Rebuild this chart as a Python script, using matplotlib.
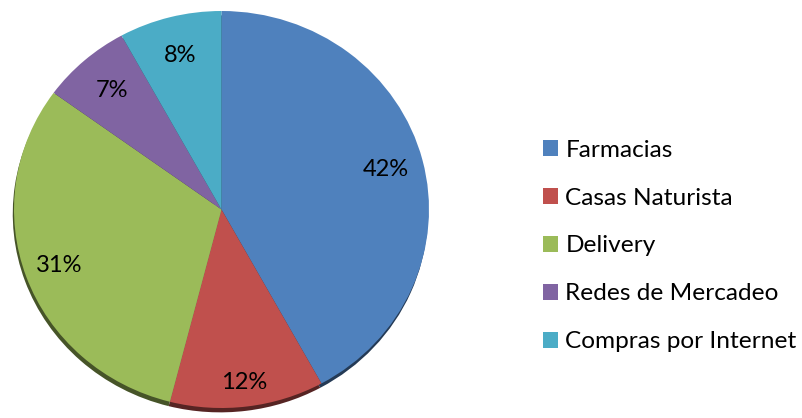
import matplotlib
matplotlib.use("Agg")
import numpy as np
import matplotlib.pyplot as plt
from matplotlib.patches import Rectangle
from matplotlib.colors import to_rgb

categories = ["Farmacias", "Casas Naturista", "Delivery", "Redes de Mercadeo", "Compras por Internet"]
values = [42, 12, 31, 7, 8]
colors = ["#4F81BD", "#C0504D", "#9BBB59", "#8064A2", "#4BACC6"]
label_dist = [0.82, 0.88, 0.83, 0.80, 0.80]

plt.rcParams['font.family'] = ['Lato', 'DejaVu Sans']

fig = plt.figure(figsize=(8.02, 4.18), dpi=100)
ax = fig.add_axes([14/802, 10/418, 415/802, 397/418])

shadow_colors = [tuple(0.45 * np.array(to_rgb(c))) for c in colors]
ax.pie(values, colors=shadow_colors, startangle=90, counterclock=False,
       center=(-0.006, -0.022), wedgeprops=dict(linewidth=0))

wedges, texts = ax.pie(
    values, colors=colors, startangle=90, counterclock=False,
    wedgeprops=dict(linewidth=0))

total = sum(values)
for w, v, d in zip(wedges, values, label_dist):
    ang = np.deg2rad((w.theta1 + w.theta2) / 2)
    ax.text(d * np.cos(ang), d * np.sin(ang), f"{100 * v / total:.0f}%",
            ha='center', va='center', fontsize=17, color='black')

ax.set_aspect('auto')
ax.set_xlim(-1, 1)
ax.set_ylim(-1, 1)
ax.axis('off')

handles = [Rectangle((0, 0), 1, 1, facecolor=c, edgecolor='none') for c in colors]
fig.legend(handles, categories, loc='center left', bbox_to_anchor=(543/802, 172/418),
           frameon=False, fontsize=17.6, handlelength=0.62, handleheight=0.62,
           handletextpad=0.3, labelspacing=1.1, borderpad=0, borderaxespad=0)

fig.savefig("out.png", dpi=100)
